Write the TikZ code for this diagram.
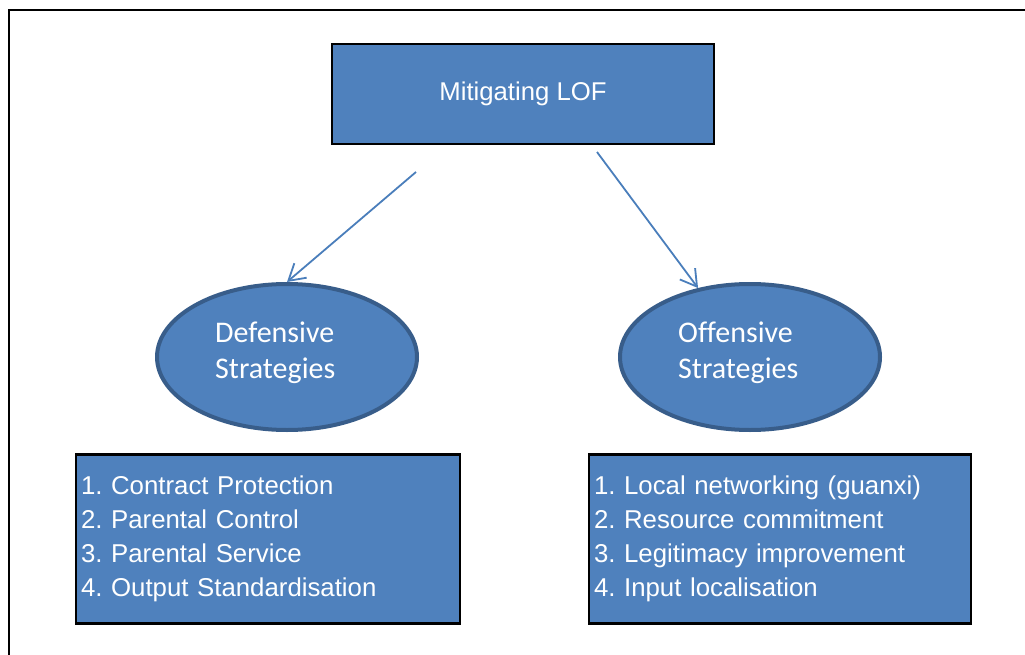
\documentclass[tikz,border=0pt]{standalone}
\usepackage{fontspec}
\setmainfont{Liberation Sans}
\newfontfamily\calib[Ligatures=NoCommon]{Carlito}
\usetikzlibrary{shapes.geometric,arrows.meta}
\definecolor{fillb}{HTML}{4F81BD}
\definecolor{ellb}{HTML}{385D8A}
\definecolor{arrb}{HTML}{4A7EBB}
\frenchspacing
\begin{document}
\begin{tikzpicture}[x=1pt,y=-1pt,
  boxstyle/.style={draw=black, line width=2.5pt, fill=fillb, text=white, inner sep=0pt},
  liststyle/.style={boxstyle, font=\fontsize{25.8}{33.8}\selectfont, align=left, inner xsep=5pt, text width=374pt, minimum height=169pt},
  ellstyle/.style={ellipse, draw=ellb, line width=4pt, fill=fillb, minimum width=260pt, minimum height=146pt, inner sep=0pt},
  elltext/.style={anchor=west, inner sep=0pt, text=white, align=left, font=\calib\fontsize{30}{36}\selectfont},
  arr/.style={draw=arrb, line width=1.8pt, -{Straight Barb[length=16pt,width=19pt]}}
]
\useasboundingbox (0,0) rectangle (1025,655);
\draw[line width=2.5pt] (9,655) -- (9,10) -- (1025,10);

\node[boxstyle, minimum width=382pt, minimum height=100pt, font=\fontsize{25.7}{30}\selectfont] (top) at (523,94) {Mitigating LOF};

\node[ellstyle] (def) at (287,357) {};
\node[ellstyle] (off) at (750,357) {};
\node[elltext] (deft) at (215,353) {Defensive\\Strategies};
\node[elltext] (offt) at (678,353) {O{}ffensive\\Strategies};

\node[liststyle] (defl) at (268,539) {1. Contract Protection\\2. Parental Control\\3. Parental Service\\4. Output Standardisation};
\node[liststyle, text width=372pt] (offl) at (780,539) {1. Local networking (guanxi)\\2. Resource commitment\\3. Legitimacy improvement\\4. Input localisation};

\coordinate (s1) at (416,172);
\coordinate (s2) at (597,152);
\draw[arr] (s1) -- (def.north);
\draw[arr] (s2) -- (off.127);
\end{tikzpicture}
\end{document}
